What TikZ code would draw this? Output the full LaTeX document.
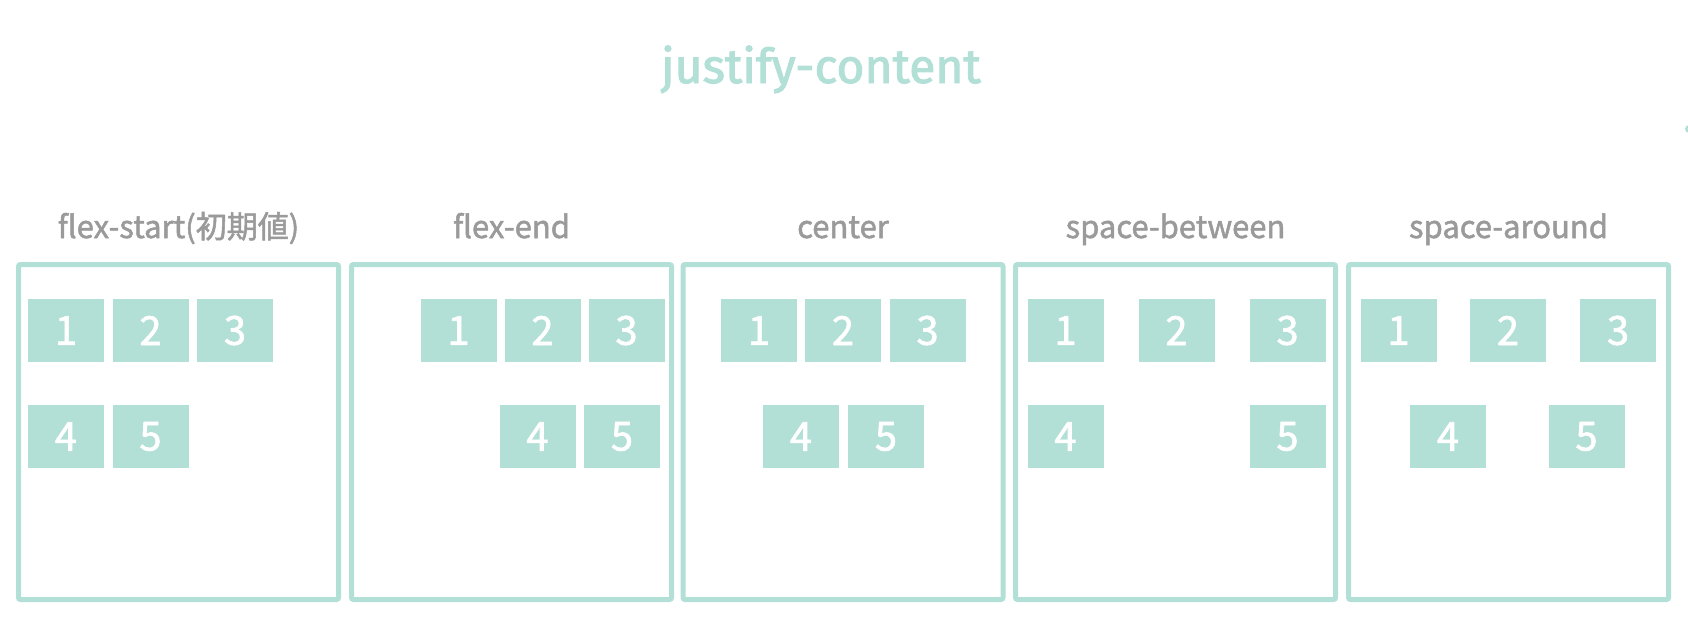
\documentclass[tikz,border=0pt]{standalone}
\usepackage{fontspec}
\usepackage{xcolor}
\newfontfamily\jpfont[FakeBold=1.6]{Noto Sans CJK JP}
\newfontfamily\titlefont[FakeBold=2]{Fira Sans}

\definecolor{mint}{RGB}{178,223,214}
\definecolor{labelgray}{RGB}{154,154,154}

\tikzset{
	container/.style = {draw=mint, line width=5pt, rounded corners=2pt,
		minimum width=320pt, minimum height=335pt, inner sep=0pt},
	item/.style = {fill=mint, minimum width=76pt, minimum height=63pt,
		inner sep=0pt, text=white, font=\jpfont\fontsize{40}{40}\selectfont},
	caption/.style = {anchor=base, text=labelgray,
		font=\jpfont\fontsize{31}{31}\selectfont}
}

\begin{document}
\begin{tikzpicture}[x=1pt, y=-1pt]
				%\draw[help lines] (0,0) grid (1688,630);
				\useasboundingbox (0,0) rectangle (1688,630);
				
				\node[anchor=base, text=mint, font=\titlefont\fontsize{48}{48}\selectfont] (title) at (821,83) {justify-content};
				\fill[mint] (1689,129) circle (4);
				
				\node[container] (start) at (178.5,432) {};
				\node[container] (end) at (511.5,432) {};
				\node[container] (center) at (843,432) {};
				\node[container] (between) at (1175.5,432) {};
				\node[container] (around) at (1508.5,432) {};
				
				\node[caption] (startlabel) at (178.5,238) {flex-start(初期値)};
				\node[caption] (endlabel) at (511.5,238) {flex-end};
				\node[caption] (centerlabel) at (843,238) {center};
				\node[caption] (betweenlabel) at (1175.5,238) {space-between};
				\node[caption] (aroundlabel) at (1508.5,238) {space-around};
				
				% flex-start
				\node[item] (s1) at (66,330.5) {1};
				\node[item] (s2) at (150.5,330.5) {2};
				\node[item] (s3) at (235,330.5) {3};
				\node[item] (s4) at (66,436.5) {4};
				\node[item] (s5) at (150.5,436.5) {5};
				
				% flex-end
				\node[item] (e1) at (458.5,330.5) {1};
				\node[item] (e2) at (542.5,330.5) {2};
				\node[item] (e3) at (626.5,330.5) {3};
				\node[item] (e4) at (537.5,436.5) {4};
				\node[item] (e5) at (622,436.5) {5};
				
				% center
				\node[item] (c1) at (759,330.5) {1};
				\node[item] (c2) at (843,330.5) {2};
				\node[item] (c3) at (927.5,330.5) {3};
				\node[item] (c4) at (801,436.5) {4};
				\node[item] (c5) at (886,436.5) {5};
				
				% space-between
				\node[item] (b1) at (1065.5,330.5) {1};
				\node[item] (b2) at (1176.5,330.5) {2};
				\node[item] (b3) at (1287.5,330.5) {3};
				\node[item] (b4) at (1065.5,436.5) {4};
				\node[item] (b5) at (1287.5,436.5) {5};
				
				% space-around
				\node[item] (a1) at (1398.5,330.5) {1};
				\node[item] (a2) at (1508,330.5) {2};
				\node[item] (a3) at (1618,330.5) {3};
				\node[item] (a4) at (1448,436.5) {4};
				\node[item] (a5) at (1586.5,436.5) {5};
\end{tikzpicture}
\end{document}
